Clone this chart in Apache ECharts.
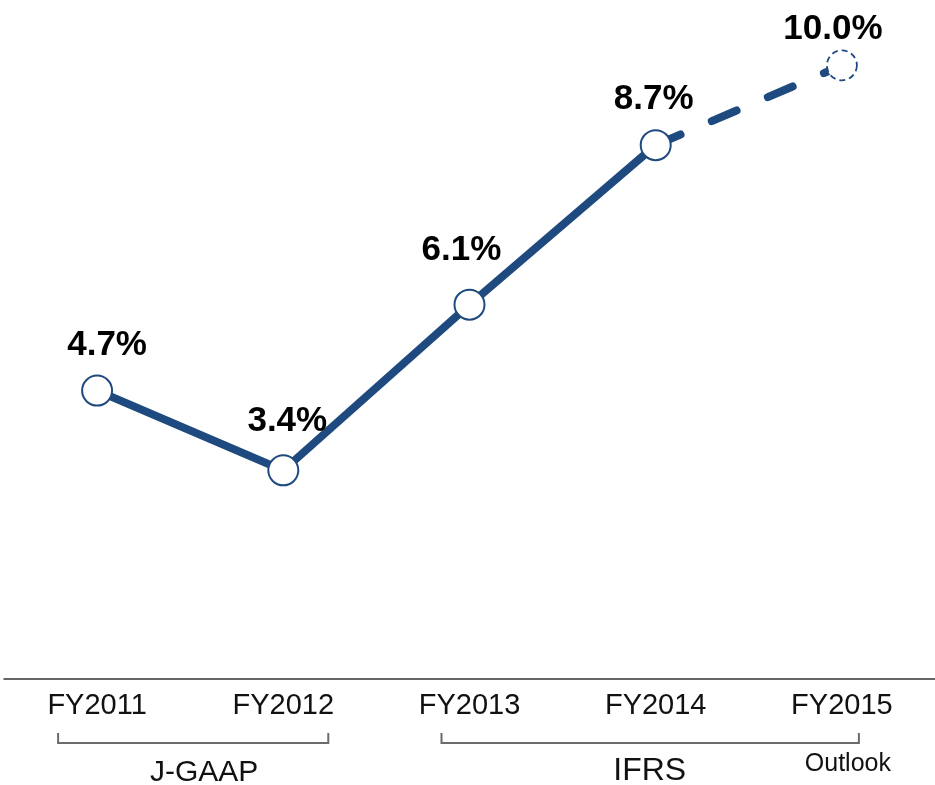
<!DOCTYPE html>
<html>
<head>
<meta charset="utf-8">
<script src="https://cdn.jsdelivr.net/npm/echarts@6/dist/echarts.min.js"></script>
<style>html,body{margin:0;padding:0;background:#fff;}#c{width:935px;height:785px;}</style>
</head>
<body>
<div id="c"></div>
<script>
const categories = ['FY2011', 'FY2012', 'FY2013', 'FY2014', 'FY2015'];
const actualValues = [4.7, 3.4, 6.1, 8.7, null];
const outlookValues = [null, null, null, 8.7, 10.0];
const valueLabels = ['4.7%', '3.4%', '6.1%', '8.7%', '10.0%'];
const groupNames = ['J-GAAP', 'IFRS'];
const outlookNote = 'Outlook';

const BLUE = '#1F4A7F';
const FONT = '"Liberation Sans", Arial, sans-serif';
const labelOffsets = [[10, -12], [4, -16], [-8, -21], [-2, -12], [-9, -3]];

const chart = echarts.init(document.getElementById('c'), null, {renderer: 'canvas'});

const actualData = actualValues.map((v, i) => v == null ? '-' : {
  value: v,
  label: {show: true, formatter: valueLabels[i], offset: labelOffsets[i]}
});
const outlookData = outlookValues.map((v, i) => {
  if (v == null) return '-';
  if (actualValues[i] != null) return {value: v, symbol: 'none', label: {show: false}};
  return {value: v, label: {show: true, formatter: valueLabels[i], offset: labelOffsets[i]}};
});

chart.setOption({
  animation: false,
  backgroundColor: '#fff',
  grid: {left: 4, right: -1, top: 4, bottom: 106, containLabel: false},
  xAxis: {
    type: 'category',
    data: categories,
    boundaryGap: true,
    axisLine: {show: true, lineStyle: {color: '#333', width: 1.5}},
    axisTick: {show: false},
    axisLabel: {color: '#111', fontFamily: FONT, fontSize: 29, margin: 12}
  },
  yAxis: {
    type: 'value', min: 0, max: 11,
    show: false, splitLine: {show: false}
  },
  series: [
    {
      type: 'line', name: 'outlook', z: 1,
      data: outlookData,
      symbol: 'circle', symbolSize: 30,
      itemStyle: {color: '#fff', borderColor: BLUE, borderWidth: 1.8, borderType: [6, 4]},
      lineStyle: {color: BLUE, width: 8, type: [27, 34], cap: 'round'},
      label: {position: 'top', distance: 0, color: '#000', fontFamily: FONT, fontWeight: 'bold', fontSize: 35},
      emphasis: {disabled: true}
    },
    {
      type: 'line', name: 'actual', z: 2,
      data: actualData,
      symbol: 'circle', symbolSize: 30,
      itemStyle: {color: '#fff', borderColor: BLUE, borderWidth: 2},
      lineStyle: {color: BLUE, width: 8},
      label: {position: 'top', distance: 0, color: '#000', fontFamily: FONT, fontWeight: 'bold', fontSize: 35},
      emphasis: {disabled: true}
    }
  ]
});

const px = categories.map(c => chart.convertToPixel({xAxisIndex: 0}, c));
const bracketTop = 733, bracketBot = 743;
function bracket(x1, x2) {
  return {
    type: 'polyline',
    shape: {points: [[x1, bracketTop], [x1, bracketBot], [x2, bracketBot], [x2, bracketTop]]},
    style: {stroke: '#6b6b6b', lineWidth: 2, fill: null}
  };
}
const jx1 = px[0] - 39, jx2 = px[1] + 45;
const ix1 = px[2] - 28, ix2 = px[4] + 17;
chart.setOption({
  graphic: [
    bracket(jx1, jx2),
    bracket(ix1, ix2),
    {type: 'text', x: (px[0] + px[1]) / 2 + 14, y: 773,
     style: {text: groupNames[0], font: '30px ' + FONT, fill: '#111', align: 'center', verticalAlign: 'middle'}},
    {type: 'text', x: (px[2] + px[4]) / 2 - 6, y: 771,
     style: {text: groupNames[1], font: '32px ' + FONT, fill: '#111', align: 'center', verticalAlign: 'middle'}},
    {type: 'text', x: px[4] + 6, y: 764,
     style: {text: outlookNote, font: '25px ' + FONT, fill: '#111', align: 'center', verticalAlign: 'middle'}}
  ]
});
</script>
</body>
</html>
